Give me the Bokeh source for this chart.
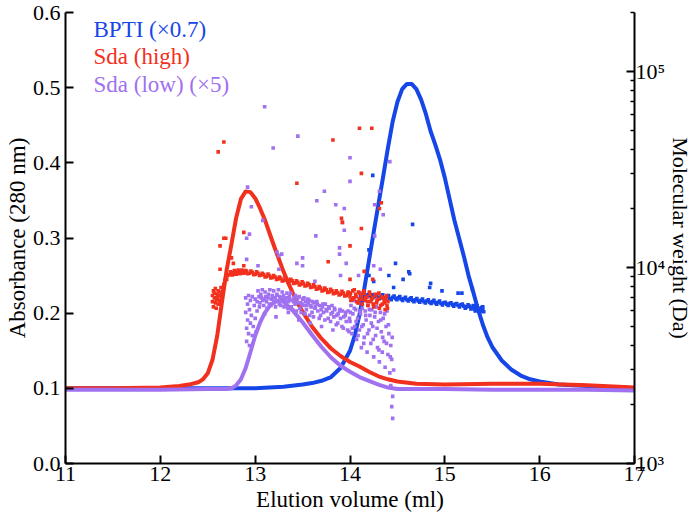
from bokeh.plotting import figure
from bokeh.models import (Range1d, LogScale, LogAxis, FixedTicker, PrintfTickFormatter, Label)
from bokeh.embed import file_html
from bokeh.resources import INLINE

# ---------------- data ----------------
# Absorbance curves (x = elution volume in ml, y = absorbance at 280 nm)
bpti_x = [11.0, 12.0, 12.5, 12.8, 13.0, 13.3, 13.5, 13.6, 13.7, 13.8, 13.9, 14.0, 14.05, 14.1, 14.15,
          14.2, 14.25, 14.3, 14.35, 14.4, 14.45, 14.5, 14.55, 14.6, 14.65, 14.7, 14.75, 14.8, 14.85,
          14.9, 14.95, 15.0, 15.05, 15.1, 15.15, 15.2, 15.25, 15.3, 15.35, 15.4, 15.45, 15.5, 15.6,
          15.7, 15.8, 15.9, 16.0, 16.2, 16.5, 17.0]
bpti_abs = [0.100, 0.100, 0.100, 0.100, 0.100, 0.102, 0.105, 0.107, 0.110, 0.115, 0.127, 0.150, 0.170,
            0.198, 0.232, 0.270, 0.308, 0.345, 0.382, 0.420, 0.455, 0.481, 0.498, 0.505, 0.505, 0.498,
            0.484, 0.465, 0.442, 0.424, 0.404, 0.380, 0.352, 0.324, 0.300, 0.276, 0.250, 0.228, 0.205,
            0.185, 0.168, 0.155, 0.137, 0.125, 0.117, 0.112, 0.109, 0.105, 0.103, 0.100]

high_x = [11.0, 11.5, 12.0, 12.2, 12.3, 12.4, 12.45, 12.5, 12.55, 12.6, 12.65, 12.7, 12.75, 12.8, 12.85,
          12.9, 12.95, 13.0, 13.05, 13.1, 13.15, 13.2, 13.25, 13.3, 13.35, 13.4, 13.45, 13.5, 13.6,
          13.7, 13.8, 13.9, 14.0, 14.1, 14.2, 14.3, 14.4, 14.5, 14.7, 15.0, 15.5, 16.0, 16.5, 17.0]
high_abs = [0.100, 0.100, 0.101, 0.103, 0.105, 0.108, 0.112, 0.120, 0.138, 0.170, 0.215, 0.258, 0.292,
            0.327, 0.352, 0.362, 0.361, 0.353, 0.340, 0.325, 0.307, 0.289, 0.272, 0.255, 0.240, 0.226,
            0.213, 0.202, 0.182, 0.166, 0.153, 0.143, 0.135, 0.129, 0.122, 0.116, 0.112, 0.109, 0.106,
            0.105, 0.106, 0.106, 0.104, 0.101]

low_x = [11.0, 11.5, 12.0, 12.5, 12.7, 12.75, 12.8, 12.85, 12.9, 12.95, 13.0, 13.05, 13.1, 13.15, 13.2,
         13.25, 13.3, 13.4, 13.5, 13.6, 13.7, 13.8, 13.9, 14.0, 14.1, 14.2, 14.3, 14.4, 14.5, 15.0,
         15.5, 16.0, 16.5, 17.0]
low_abs = [0.098, 0.098, 0.098, 0.099, 0.099, 0.100, 0.104, 0.112, 0.127, 0.148, 0.170, 0.187, 0.200,
           0.209, 0.215, 0.217, 0.215, 0.203, 0.188, 0.171, 0.155, 0.141, 0.130, 0.122, 0.115, 0.110,
           0.105, 0.101, 0.099, 0.099, 0.098, 0.098, 0.098, 0.097]

# Molecular weight points (x = elution volume, y = Da, right log axis)
high_mw_x = [12.55, 12.55, 12.56, 12.56, 12.57, 12.57, 12.58, 12.58, 12.59, 12.59, 12.60, 12.60, 12.61,
             12.61, 12.62, 12.62, 12.63, 12.63, 12.64, 12.64, 12.65, 12.65, 12.66, 12.67, 12.68, 12.69,
             12.70, 12.71,
             12.73, 12.75, 12.77, 12.79, 12.81, 12.83, 12.85, 12.87, 12.89, 12.91, 12.94, 12.97, 13.00,
             13.03, 13.06, 13.09, 13.12, 13.15, 13.18, 13.21, 13.24, 13.27, 13.30, 13.33, 13.36, 13.39,
             13.42, 13.45, 13.48, 13.51, 13.54, 13.57, 13.60, 13.63, 13.66, 13.69, 13.72, 13.75, 13.78,
             13.81, 13.84, 13.87, 13.90, 13.93, 13.96,
             13.98, 14.00, 14.01, 14.03, 14.04, 14.06, 14.07, 14.09, 14.10, 14.12, 14.13, 14.15, 14.16,
             14.18, 14.19, 14.21, 14.22, 14.24, 14.25, 14.27, 14.28, 14.30, 14.31, 14.33, 14.34, 14.36,
             14.37, 14.38, 14.39, 14.40,
             12.61, 12.67, 13.44, 13.82, 14.10, 14.23, 14.12, 14.33, 14.31, 13.91, 13.92, 14.12, 14.00,
             13.77, 14.15, 12.88, 12.67, 12.69, 12.63, 12.75, 12.77, 12.63, 12.88, 14.00, 14.24]
high_mw = [7200, 6700, 7600, 6300, 7000, 7400, 6600, 7800, 6900, 6200, 7300, 7000, 6500,
           7600, 6800, 7200, 7500, 6600, 7100, 7900, 6900, 7400, 7700, 8200, 8600, 8900,
           8700, 9100,
           9200, 9400, 9250, 9500, 9350, 9550, 9400, 9600, 9450, 9550, 9350, 9450, 9250,
           9350, 9150, 9200, 9000, 9100, 8900, 8950, 8750, 8800, 8600, 8700, 8500, 8550,
           8350, 8400, 8200, 8300, 8100, 8150, 7950, 8000, 7800, 7850, 7650, 7700, 7500,
           7600, 7400, 7450, 7300, 7400, 7200,
           7500, 7100, 6800, 7600, 7000, 7300, 6700, 7500, 6900, 7200, 6500, 7400, 6800,
           7100, 6400, 7300, 6700, 7000, 6300, 7200, 6600, 6900, 6200, 7100, 6500, 6800,
           6100, 7000, 6400, 6700,
           38900, 43700, 26900, 44700, 51300, 51300, 30200, 21400, 20000, 17800, 17000, 15800, 12900,
           10700, 9550, 15100, 14100, 14100, 12900, 11200, 10500, 9800, 10200, 8700, 8700]
# second, interleaved set of Sda (high) points in the dense band
high_mw_x_b = [12.74, 12.76, 12.78, 12.80, 12.82, 12.84, 12.86, 12.88, 12.90, 12.92, 12.955, 12.985,
               13.015, 13.045, 13.075, 13.105, 13.135, 13.165, 13.195, 13.225, 13.255, 13.285, 13.315,
               13.345, 13.375, 13.405, 13.435, 13.465, 13.495, 13.525, 13.555, 13.585, 13.615, 13.645,
               13.675, 13.705, 13.735, 13.765, 13.795, 13.825, 13.855, 13.885, 13.915, 13.945, 13.975,
               14.005, 14.025, 14.045, 14.065, 14.085, 14.105, 14.125, 14.145, 14.165, 14.185, 14.205,
               14.225, 14.245, 14.265, 14.285, 14.305, 14.325, 14.345, 14.365, 14.385, 14.395]
high_mw_b = [9500, 9150, 9650, 9250, 9700, 9300, 9700, 9350, 9650, 9300, 9600, 9200,
             9500, 9100, 9350, 8950, 9250, 8850, 9100, 8700, 8950, 8550, 8850,
             8450, 8700, 8300, 8550, 8150, 8450, 8050, 8300, 7900, 8150, 7750,
             8000, 7600, 7850, 7450, 7750, 7350, 7600, 7250, 7550, 7150, 7350,
             7400, 6900, 7700, 7100, 6600, 7400, 6900, 7600, 7000, 6700, 7500,
             6900, 6500, 7300, 6800, 7400, 6400, 7000, 6600, 7200, 6200]

low_mw_x = [12.90, 12.90, 12.91, 12.91, 12.92, 12.92, 12.93, 12.93, 12.94, 12.94, 12.95, 12.95, 12.96,
            12.97, 12.97, 12.98, 12.99, 13.00, 13.00, 13.01, 13.02, 13.02,
            13.04, 13.05, 13.06, 13.08, 13.09, 13.11, 13.12, 13.14, 13.15, 13.17, 13.18, 13.20, 13.21,
            13.23, 13.24, 13.26, 13.27, 13.29, 13.30, 13.32, 13.33, 13.35, 13.36, 13.38, 13.39, 13.41,
            13.42, 13.44, 13.45, 13.47, 13.48, 13.50, 13.51, 13.53, 13.54, 13.56, 13.57, 13.59, 13.60,
            13.62, 13.63, 13.65, 13.66, 13.68, 13.69, 13.71, 13.72, 13.74, 13.75, 13.77, 13.78, 13.80,
            13.81, 13.83, 13.84, 13.86, 13.87, 13.89, 13.90, 13.92, 13.93, 13.95, 13.96, 13.98, 13.99,
            13.10, 13.22, 13.35, 13.46, 13.58, 13.70, 13.82,
            14.00, 14.01, 14.02, 14.03, 14.04, 14.05, 14.06, 14.07, 14.08, 14.09, 14.10, 14.11, 14.12,
            14.13, 14.14, 14.15, 14.16, 14.17, 14.18, 14.19, 14.20, 14.21, 14.22, 14.23, 14.24, 14.25,
            14.26, 14.27, 14.28, 14.29, 14.30, 14.31, 14.32, 14.33, 14.34, 14.35, 14.36, 14.37, 14.38,
            14.39, 14.40, 14.41, 14.42, 14.43, 14.43, 14.44, 14.44, 14.45, 14.45, 14.46,
            13.10, 13.45, 13.19, 12.92, 12.96, 13.08, 12.94, 12.91, 12.91, 13.03, 13.23, 13.28, 13.25,
            13.25, 13.50, 13.44, 13.50, 13.64, 13.65, 13.73, 13.85, 13.94, 13.92, 13.94, 13.89, 13.89,
            13.96, 14.00, 14.00, 14.42, 14.31, 14.26, 14.35, 14.26, 14.32, 14.25, 14.09, 13.90, 13.63]
low_mw = [7000, 5900, 4900, 4200, 6500, 5400, 4600, 7200, 6100, 4000, 5200, 6800, 5700,
          4500, 7100, 5000, 6400, 6900, 5500, 4700, 6700, 6000,
          7100, 6600, 7300, 6800, 6400, 7100, 6700, 7300, 6500, 6900, 7200, 6600, 7000,
          7300, 6700, 7100, 6400, 6900, 7200, 6600, 7000, 6700, 7100, 6300, 6800, 7000,
          6500, 6700, 7000, 6200, 6600, 6900, 6400, 6700, 6100, 6600, 6800, 6300, 5900,
          6600, 6200, 6700, 6000, 6400, 5700, 6300, 5900, 6500, 6100, 5500, 6200, 5800,
          6400, 5600, 6100, 5700, 5200, 6000, 5500, 6000, 4900, 5700, 5300, 6000, 4700,
          5800, 5600, 5900, 5400, 5200, 5000, 4800,
          5300, 6400, 4600, 5800, 6800, 5000, 6100, 4300, 5500, 6600, 4800, 5800, 3900,
          6200, 5100, 4400, 6000, 5400, 3700, 6400, 4800, 5700, 4100, 6100, 5000, 3500,
          5600, 4500, 6300, 3900, 5300, 3300, 5900, 4700, 3700, 5500, 4200, 3100, 5000,
          6000, 3600, 4600, 2900, 4000, 2500, 3400, 1950, 2200, 1700, 3000,
          66100, 46800, 40700, 25700, 20400, 17400, 14800, 14100, 11000, 10200, 12000, 11700, 11500,
          9800, 11200, 10500, 10200, 14500, 21900, 24500, 20900, 20000, 17000, 15500, 12600, 11700,
          10500, 27500, 36300, 34700, 24500, 20900, 18600, 14500, 9800, 10200, 9100, 9100, 8500]
# second, interleaved set of Sda (low) points in the dense cloud
low_mw_x_b = [13.03, 13.045, 13.065, 13.075, 13.095, 13.105, 13.125, 13.135, 13.155, 13.165, 13.185,
              13.195, 13.215, 13.225, 13.245, 13.255, 13.275, 13.285, 13.305, 13.315, 13.335, 13.345,
              13.365, 13.375, 13.395, 13.405, 13.425, 13.435, 13.455, 13.465, 13.485, 13.495, 13.515,
              13.525, 13.545, 13.555, 13.575, 13.585, 13.605, 13.615, 13.635, 13.655, 13.675, 13.695,
              13.715, 13.735, 13.755, 13.775, 13.795, 13.815, 13.835, 13.855, 13.875, 13.895, 13.915,
              13.935, 13.955, 13.975, 13.995,
              14.005, 14.025, 14.045, 14.065, 14.085, 14.105, 14.125, 14.145, 14.165, 14.185, 14.205,
              14.225, 14.245, 14.265, 14.285, 14.305, 14.325, 14.345, 14.365, 14.385, 14.405, 14.425,
              14.445]
low_mw_b = [7600, 6300, 7000, 7700, 6900, 7500, 6200, 7000, 7700, 6400, 7000,
            7600, 6300, 7200, 7700, 6500, 7000, 7500, 6300, 6900, 7400, 6200,
            6900, 7400, 6100, 6700, 7200, 6000, 6600, 7100, 5900, 6500, 7000,
            5800, 6400, 6900, 5700, 6400, 6700, 5600, 6300, 6500, 5500, 6100,
            6500, 5400, 6000, 6300, 5300, 5900, 6200, 5100, 5800, 6100, 5000,
            5600, 5900, 4800, 5500,
            5900, 4900, 6200, 5300, 4500, 6000, 5000, 4100, 5700, 4600, 6100,
            5200, 4300, 5900, 4900, 3800, 5400, 4400, 5800, 4100, 5100, 3500,
            4400]

bpti_mw_x = [14.10, 14.12, 14.14, 14.16, 14.18, 14.20, 14.22, 14.24, 14.26, 14.28, 14.30, 14.33, 14.36,
             14.39, 14.42, 14.45, 14.48, 14.51, 14.54, 14.57, 14.60, 14.63, 14.66, 14.69, 14.72, 14.75,
             14.78, 14.81, 14.84, 14.87, 14.90, 14.93, 14.96, 14.99, 15.02, 15.05, 15.08, 15.11, 15.14,
             15.17, 15.20, 15.23, 15.26, 15.29, 15.31, 15.33, 15.35, 15.36, 15.38, 15.39, 15.40, 15.41,
             14.24, 14.66, 14.20, 14.48, 14.63, 14.41, 14.20, 14.56, 14.46, 14.85, 14.84, 14.97, 15.18,
             15.29, 14.62, 14.25, 15.14]
bpti_mw = [6900, 7100, 7000, 7200, 7100, 7300, 7150, 7250, 7100, 7200, 7050, 7150, 7000,
           7100, 6950, 7050, 6950, 7000, 6900, 6950, 6850, 6900, 6800, 6850, 6750, 6800,
           6700, 6750, 6650, 6700, 6600, 6650, 6550, 6600, 6500, 6550, 6450, 6500, 6400,
           6450, 6350, 6300, 6350, 6250, 6150, 6300, 6050, 6200, 6000, 6250, 6100, 5950,
           29500, 16600, 12300, 10500, 9300, 9100, 9100, 8700, 7900, 8300, 7900, 7600, 7400,
           7800, 9500, 8500, 7400]
# second, interleaved set of BPTI points in the band
bpti_mw_x_b = [14.11, 14.15, 14.19, 14.23, 14.27, 14.315, 14.345, 14.375, 14.405, 14.435, 14.465,
               14.495, 14.525, 14.555, 14.585, 14.615, 14.645, 14.675, 14.705, 14.735, 14.765, 14.795,
               14.825, 14.855, 14.885, 14.915, 14.945, 14.975, 15.005, 15.035, 15.065, 15.095, 15.125,
               15.155, 15.185, 15.215, 15.245, 15.275, 15.30, 15.32, 15.34, 15.37, 15.40]
bpti_mw_b = [7200, 6900, 7250, 6950, 7250, 6950, 7250, 6900, 7200, 6850, 7150,
             6850, 7100, 6800, 7050, 6750, 7000, 6700, 6950, 6650, 6900, 6600,
             6850, 6550, 6800, 6500, 6750, 6450, 6650, 6400, 6600, 6350, 6550,
             6300, 6500, 6200, 6450, 6150, 6400, 6000, 6350, 5950, 6300]

x_ticks = [11, 12, 13, 14, 15, 16, 17]
abs_ticks = [0.0, 0.1, 0.2, 0.3, 0.4, 0.5, 0.6]
mw_ticks = [1000, 10000, 100000]
mw_labels = ["10\u00b3", "10\u2074", "10\u2075"]
legend_labels = ["BPTI (\u00d70.7)", "Sda (high)", "Sda (low) (\u00d75)"]

# ---------------- style ----------------
BLUE = "#1646E8"
RED = "#F2301E"
PURPLE = "#A071F0"
FONT = "Liberation Serif"

p = figure(width=697, height=520, x_range=Range1d(11, 17), y_range=Range1d(0, 0.6),
           output_backend="svg", toolbar_location=None,
           min_border_left=65, min_border_right=63, min_border_top=12, min_border_bottom=57)
p.styles = {"position": "absolute", "left": "0px", "top": "0px"}
p.outline_line_color = None
p.xgrid.visible = False
p.ygrid.visible = False
p.background_fill_color = "white"

p.extra_y_ranges = {"mw": Range1d(1000, 200000)}
p.extra_y_scales = {"mw": LogScale()}

def style_axis(ax):
    ax.axis_line_width = 2
    ax.axis_line_color = "black"
    ax.major_tick_line_width = 2
    ax.major_tick_in = 8
    ax.major_tick_out = 0
    ax.minor_tick_line_width = 1.5
    ax.minor_tick_in = 4
    ax.minor_tick_out = 0
    ax.major_label_text_font = FONT
    ax.major_label_text_font_size = "22px"
    ax.major_label_text_color = "black"
    ax.axis_label_text_font = FONT
    ax.axis_label_text_font_size = "23px"
    ax.axis_label_text_font_style = "normal"
    ax.axis_label_text_color = "black"

xa = p.xaxis[0]
style_axis(xa)
xa.ticker = FixedTicker(ticks=x_ticks)
xa.minor_tick_line_color = None
xa.axis_label = "Elution volume (ml)"
xa.major_label_standoff = 3
xa.axis_label_standoff = 3

ya = p.yaxis[0]
style_axis(ya)
ya.ticker = FixedTicker(ticks=abs_ticks)
ya.formatter = PrintfTickFormatter(format="%.1f")
ya.minor_tick_line_color = None
ya.axis_label = "Absorbance (280 nm)"
ya.major_label_standoff = 5
ya.axis_label_standoff = 0

minor_mw = [m * d for d in (1000, 10000, 100000) for m in range(2, 10) if m * d <= 200000]
ra = LogAxis(y_range_name="mw", axis_label="Molecular weight (Da)",
             ticker=FixedTicker(ticks=mw_ticks, minor_ticks=minor_mw))
style_axis(ra)
ra.axis_label_text_font_size = "22px"
ra.major_label_overrides = {t: s for t, s in zip(mw_ticks, mw_labels)}
ra.major_label_standoff = 1
ra.axis_label_standoff = 0
p.add_layout(ra, "right")

# ---------------- curves ----------------
p.line(bpti_x, bpti_abs, line_color=BLUE, line_width=4, line_join="round")
p.line(high_x, high_abs, line_color=RED, line_width=4, line_join="round")
p.line(low_x, low_abs, line_color=PURPLE, line_width=4, line_join="round")

# ---------------- MW points ----------------
MS = 3.6
p.scatter(low_mw_x + low_mw_x_b, low_mw + low_mw_b, y_range_name="mw", marker="square", size=MS,
          fill_color=PURPLE, line_color=None)
p.scatter(bpti_mw_x + bpti_mw_x_b, bpti_mw + bpti_mw_b, y_range_name="mw", marker="square", size=MS,
          fill_color=BLUE, line_color=None)
p.scatter(high_mw_x + high_mw_x_b, high_mw + high_mw_b, y_range_name="mw", marker="square", size=MS,
          fill_color=RED, line_color=None)

# ---------------- legend texts ----------------
for lbl, col, yy in zip(legend_labels, [BLUE, RED, PURPLE], [434, 407, 379]):
    p.add_layout(Label(x=28, y=yy, x_units="screen", y_units="screen", text=lbl,
                       text_color=col, text_font=FONT, text_font_size="23px",
                       text_baseline="middle", text_align="left"))

open("out.html", "w").write(file_html(p, INLINE))
